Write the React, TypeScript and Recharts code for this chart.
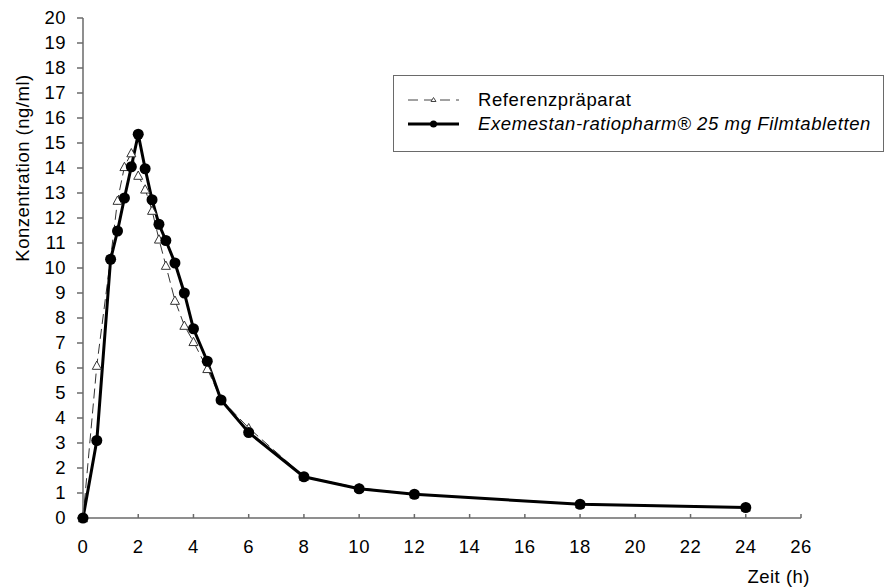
import { LineChart, Line, XAxis, YAxis, Legend, Label } from 'recharts';

// Zeitpunkte (h) und mittlere Konzentrationen (ng/ml)
const times = [0, 0.5, 1, 1.25, 1.5, 1.75, 2, 2.25, 2.5, 2.75, 3, 3.33, 3.67, 4, 4.5, 5, 6, 8, 10, 12, 18, 24];
const referenz = [0, 6.1, 10.4, 12.7, 14.05, 14.6, 13.7, 13.15, 12.3, 11.15, 10.1, 8.7, 7.7, 7.05, 5.97, 4.75, 3.6, 1.66, 1.2, 0.96, 0.56, 0.43];
const exemestan = [0, 3.1, 10.35, 11.48, 12.8, 14.05, 15.35, 13.97, 12.73, 11.75, 11.1, 10.2, 9.0, 7.57, 6.27, 4.72, 3.42, 1.65, 1.17, 0.95, 0.55, 0.42];

const seriesNames = ['Referenzpräparat', 'Exemestan-ratiopharm® 25 mg Filmtabletten'];
const xTicks = [0, 2, 4, 6, 8, 10, 12, 14, 16, 18, 20, 22, 24, 26];
const yTicks = [0, 1, 2, 3, 4, 5, 6, 7, 8, 9, 10, 11, 12, 13, 14, 15, 16, 17, 18, 19, 20];

const FONT = '"Liberation Sans", Arial, sans-serif';
const AXIS = '#6a6a6a';
const FS = 18.5;
const LS = 0.5;

const data = times.map((t, i) => ({ t, ref: referenz[i], exe: exemestan[i] }));

function Triangle(props: any) {
  const { cx, cy, index } = props;
  if (cx == null || cy == null) return null;
  const s = 4.5;
  return (
    <polygon
      key={'tri' + index}
      points={`${cx},${cy - s} ${cx - s},${cy + s * 0.85} ${cx + s},${cy + s * 0.85}`}
      fill="#fff"
      stroke="#333"
      strokeWidth={1}
    />
  );
}

function LegendBox() {
  return (
    <div
      style={{
        border: '1.5px solid ' + AXIS,
        width: 491,
        height: 77,
        boxSizing: 'border-box',
        background: '#fff',
        fontFamily: FONT,
        fontSize: FS,
        letterSpacing: 0.6,
        color: '#000',
        paddingTop: 12,
        lineHeight: '24px',
      }}
    >
      <div style={{ display: 'flex', alignItems: 'center', height: 24 }}>
        <svg width={84} height={20} style={{ flex: 'none' }}>
          <line x1={14} y1={10} x2={65} y2={10} stroke="#444" strokeWidth={1} strokeDasharray="10 6" />
          <polygon points="39.5,7.5 37,11.5 42,11.5" fill="#fff" stroke="#444" strokeWidth={1} />
        </svg>
        <span>{seriesNames[0]}</span>
      </div>
      <div style={{ display: 'flex', alignItems: 'center', height: 24 }}>
        <svg width={84} height={20} style={{ flex: 'none' }}>
          <line x1={14} y1={10} x2={65} y2={10} stroke="#000" strokeWidth={3} />
          <circle cx={39.5} cy={10} r={3.5} fill="#000" />
        </svg>
        <span style={{ fontStyle: 'italic', whiteSpace: 'nowrap' }}>{seriesNames[1]}</span>
      </div>
    </div>
  );
}

export default function App() {
  return (
    <div>
      <style>{'body{margin:0}'}</style>
      <LineChart
        width={885}
        height={587}
        data={data}
        margin={{ top: 18, right: 84, bottom: 5, left: 23 }}
        style={{ fontFamily: FONT }}
      >
        <XAxis
          dataKey="t"
          type="number"
          domain={[0, 26]}
          ticks={xTicks}
          height={64}
          tickSize={-4}
          tickMargin={26}
          stroke={AXIS}
          strokeWidth={1.5}
          tick={{ fill: '#000', fontSize: FS, letterSpacing: LS }}
        >
          <Label
            content={() => (
              <text x={810} y={583} textAnchor="end" fontSize={FS} letterSpacing={LS} fill="#000">
                Zeit (h)
              </text>
            )}
          />
        </XAxis>
        <YAxis
          type="number"
          domain={[0, 20]}
          ticks={yTicks}
          interval={0}
          width={60}
          tickSize={6}
          tickMargin={11}
          stroke={AXIS}
          strokeWidth={1.5}
          tick={{ fill: '#000', fontSize: FS, letterSpacing: LS, dy: -1 }}
        >
          <Label
            content={() => (
              <text
                x={22}
                y={168}
                transform="rotate(-90, 22, 168)"
                textAnchor="middle"
                dominantBaseline="central"
                fontSize={FS}
                letterSpacing={LS}
                fill="#000"
              >
                Konzentration (ng/ml)
              </text>
            )}
          />
        </YAxis>
        <Legend
          layout="vertical"
          align="center"
          verticalAlign="middle"
          content={() => <LegendBox />}
          wrapperStyle={{ left: 393, top: 75, width: 491, height: 77 }}
        />
        <Line
          dataKey="ref"
          name={seriesNames[0]}
          stroke="#333"
          strokeWidth={1}
          strokeDasharray="10 5"
          dot={Triangle}
          activeDot={false}
          isAnimationActive={false}
        />
        <Line
          dataKey="exe"
          name={seriesNames[1]}
          stroke="#000"
          strokeWidth={3}
          dot={{ r: 5.5, fill: '#000', stroke: '#000', strokeWidth: 0 }}
          activeDot={false}
          isAnimationActive={false}
        />
      </LineChart>
    </div>
  );
}
